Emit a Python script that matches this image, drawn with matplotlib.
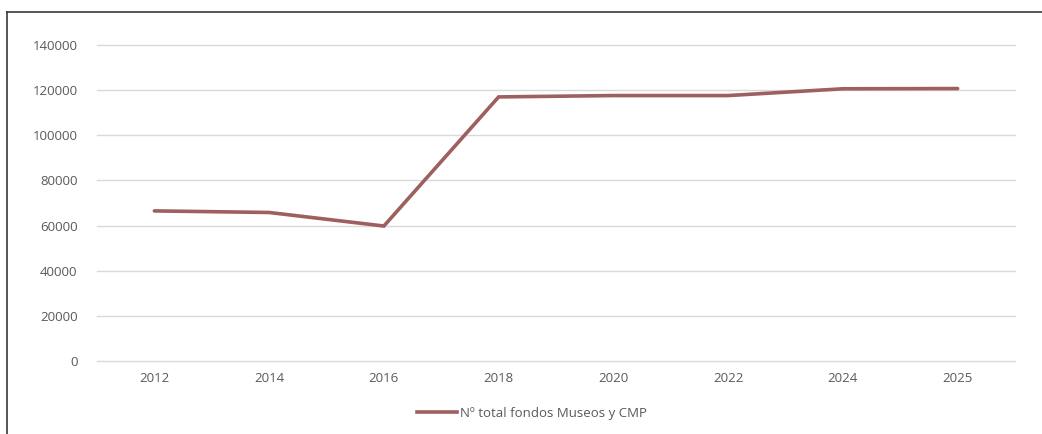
import matplotlib
matplotlib.use("Agg")
import matplotlib.pyplot as plt
from matplotlib.lines import Line2D

years = ["2012", "2014", "2016", "2018", "2020", "2022", "2024", "2025"]
fondos = [66500, 65800, 59800, 117000, 117600, 117600, 120600, 120700]
series_label = "Nº total fondos Museos y CMP"
yticks = [0, 20000, 40000, 60000, 80000, 100000, 120000, 140000]

W, H = 1042, 434
fig = plt.figure(figsize=(W / 100, H / 100), dpi=100)
plt.rcParams['font.family'] = ['Open Sans', 'DejaVu Sans']

ax = fig.add_axes([97 / W, 1 - 361 / H, (1015 - 97) / W, (361 - 45) / H])
x = list(range(len(years)))
ax.plot(x, fondos, color="#9e5f5f", lw=2.6, solid_capstyle="round", solid_joinstyle="miter", zorder=3)
ax.set_xlim(-0.5, len(years) - 0.5)
ax.set_ylim(0, 140000)
ax.set_yticks(yticks)
ax.set_yticklabels([str(v) for v in yticks])
ax.set_xticks(x)
ax.set_xticklabels(years)
ax.grid(axis="y", color="#d9d9d9", lw=1)
for gl in ax.get_ygridlines():
    gl.set_clip_on(False)
ax.set_axisbelow(True)
for s in ax.spines.values():
    s.set_visible(False)
ax.tick_params(length=0, colors="#595959", labelsize=9.5)
ax.tick_params(axis="y", pad=14)
ax.tick_params(axis="x", pad=8)

handle = Line2D([], [], color="#9e5f5f", lw=2.6)
fig.legend([handle], [series_label], loc="center", bbox_to_anchor=(532 / W, 1 - 413 / H),
           frameon=False, fontsize=9.5, labelcolor="#595959", handlelength=3.0, handletextpad=0.25)

# outer frame (top and left edges visible)
fig.add_artist(Line2D([7 / W, 1.0], [1 - 12 / H, 1 - 12 / H], color="#3a3a3a", lw=1.2, transform=fig.transFigure))
fig.add_artist(Line2D([7 / W, 7 / W], [0, 1 - 12 / H], color="#3a3a3a", lw=1.2, transform=fig.transFigure))

fig.savefig("out.png", dpi=100)
